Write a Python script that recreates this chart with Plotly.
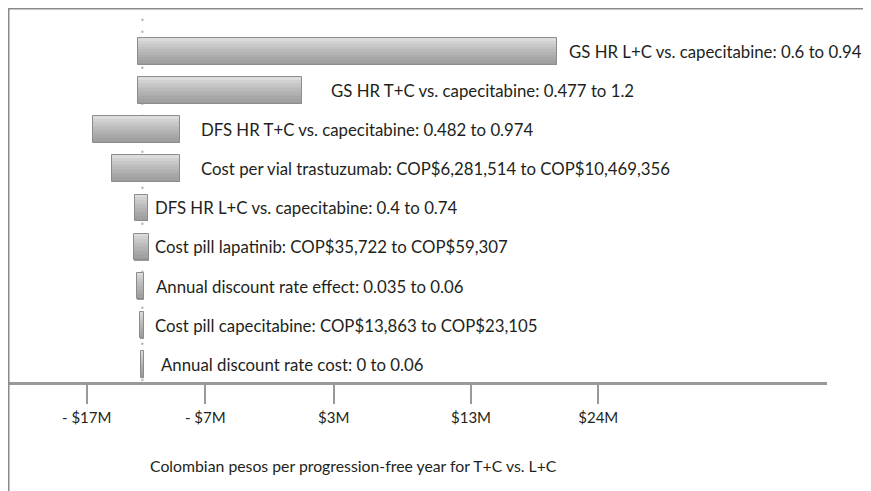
import plotly.graph_objects as go

# ---- data (millions of Colombian pesos) ----
parameters = [
    "GS HR L+C vs. capecitabine: 0.6 to 0.94",
    "GS HR T+C vs. capecitabine: 0.477 to 1.2",
    "DFS HR T+C vs. capecitabine: 0.482 to 0.974",
    "Cost per vial trastuzumab: COP$6,281,514 to COP$10,469,356",
    "DFS HR L+C vs. capecitabine: 0.4 to 0.74",
    "Cost pill lapatinib: COP$35,722 to COP$59,307",
    "Annual discount rate effect: 0.035 to 0.06",
    "Cost pill capecitabine: COP$13,863 to COP$23,105",
    "Annual discount rate cost: 0 to 0.06",
]
low_values = [-12.86, -12.89, -16.47, -15.00, -13.13, -13.19, -12.94, -12.73, -12.65]
high_values = [20.71, 0.23, -9.52, -9.52, -12.06, -12.01, -12.38, -12.38, -12.41]
base_value = -12.54
tick_values = [-17, -7.5, 2.8, 13.8, 24]
tick_labels = ["- $17M", "- $7M", "$3M", "$13M", "$24M"]
axis_title = "Colombian pesos per progression-free year for T+C vs. L+C"

# ---- styling ----
label_shift_px = [10, 27, 19, 19, 5, 4, 10, 9, 15]
positions = list(range(len(parameters)))
bar_w = 0.69
n_bands = 10
light = (220, 220, 220)
dark = (155, 155, 155)

fig = go.Figure()
lengths = [h - l for h, l in zip(high_values, low_values)]
for k in range(n_bands):
    t = k / (n_bands - 1)
    t = t ** 0.8
    c = tuple(int(round(light[i] + (dark[i] - light[i]) * t)) for i in range(3))
    fig.add_trace(go.Bar(
        orientation="h", y=positions, x=lengths, base=low_values,
        offset=-bar_w / 2 + k * bar_w / n_bands, width=bar_w / n_bands * 1.02,
        marker=dict(color="rgb(%d,%d,%d)" % c, line=dict(width=0)),
        hoverinfo="skip", showlegend=False,
    ))
# outline
fig.add_trace(go.Bar(
    orientation="h", y=positions, x=lengths, base=low_values,
    offset=-bar_w / 2, width=bar_w,
    marker=dict(color="rgba(0,0,0,0)", line=dict(width=1, color="#8c8c8c")),
    hoverinfo="skip", showlegend=False,
))

# labels
font_family = "Lato, 'Open Sans', sans-serif"
for p, h, txt, sh in zip(positions, high_values, parameters, label_shift_px):
    fig.add_annotation(x=h, y=p, xref="x", yref="y", text=txt, showarrow=False,
                       xanchor="left", yanchor="middle", xshift=sh,
                       font=dict(family=font_family, size=16.8, color="#231f20"))

# base line (dotted)
fig.add_shape(type="line", x0=base_value, x1=base_value, y0=-0.85, y1=8.46,
              xref="x", yref="y", line=dict(color="#a8a8a8", width=2, dash="2px,10px"),
              layer="below")

# frame lines (top and left border)
fig.add_shape(type="line", xref="paper", yref="paper", x0=0, x1=1.06, y0=1, y1=1,
              line=dict(color="#8a8a8a", width=3))
fig.add_shape(type="line", xref="paper", yref="paper", x0=0, x1=0, y0=1, y1=-0.3,
              line=dict(color="#8a8a8a", width=3))

# axis title as annotation
fig.add_annotation(x=-12.1, y=-0.222, xref="x", yref="paper", text=axis_title,
                   showarrow=False, xanchor="left", yanchor="middle",
                   font=dict(family=font_family, size=15.8, color="#231f20"))

fig.update_layout(
    width=863, height=483,
    margin=dict(l=0, r=44, t=0, b=109),
    paper_bgcolor="white", plot_bgcolor="white",
    barmode="overlay", bargap=0,
    xaxis=dict(range=[-23.31, 42.33], tickvals=tick_values, ticktext=tick_labels,
               showgrid=False, zeroline=False, showline=True, linecolor="#999999",
               linewidth=3, ticks="outside", ticklen=19, tickwidth=2, tickcolor="#999999",
               tickfont=dict(family=font_family, size=15, color="#231f20"),
               ticklabelstandoff=1),
    yaxis=dict(range=[8.46, -1.125], showgrid=False, zeroline=False, showline=False,
               showticklabels=False, ticks=""),
)

fig.write_html("out.html")
